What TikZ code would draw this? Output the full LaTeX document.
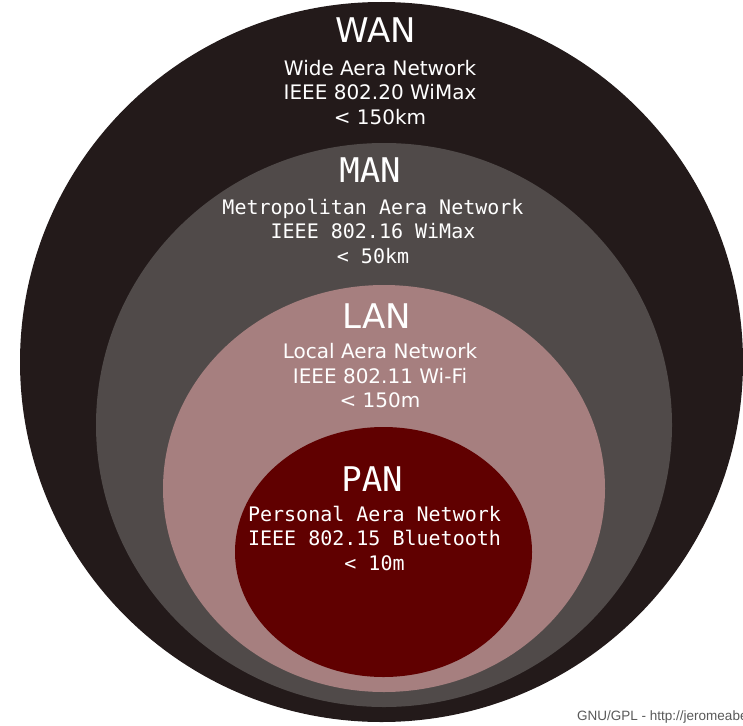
\documentclass[tikz,border=0pt]{standalone}
\usepackage{fontspec}
\setmainfont{DejaVu Sans}
\setmonofont{DejaVu Sans Mono}
\newfontfamily\footfont{Liberation Sans}
\definecolor{wancol}{HTML}{231A1A}
\definecolor{mancol}{HTML}{504A49}
\definecolor{lancol}{HTML}{A67F7F}
\definecolor{pancol}{HTML}{600000}
\tikzset{
  ringtitle/.style={text=white,inner sep=0pt,anchor=base,font=\fontsize{34}{40}\selectfont},
  ringtext/.style={text=white,inner sep=0pt,anchor=base,align=center,font=\fontsize{20}{24.5}\selectfont},
}
\begin{document}
\begin{tikzpicture}[x=1pt,y=-1pt]
 \useasboundingbox[fill=white] (0,0) rectangle (743,725);
 % rings, outside in
 \fill[wancol] (381.5,362) ellipse [x radius=361.5pt, y radius=360pt];
 \fill[mancol] (384,425) ellipse [x radius=288pt, y radius=282pt];
 \fill[lancol] (384,488.5) ellipse [x radius=221pt, y radius=203.5pt];
 \fill[pancol] (383.5,552) ellipse [x radius=148.5pt, y radius=125pt];
 % labels (text nodes sit on the baseline of their last line)
 \node[ringtitle] (wan) at (376,43) {WAN};
 \node[ringtext] (wantext) at (380,124) {Wide Aera Network\\IEEE 802.20 WiMax\\< 150km};
 \node[ringtitle,font=\ttfamily\fontsize{34}{40}\selectfont] (man) at (370,182) {MAN};
 \node[ringtext,font=\ttfamily\fontsize{20}{24.5}\selectfont] (mantext) at (373,263) {Metropolitan Aera Network\\IEEE 802.16 WiMax\\< 50km};
 \node[ringtitle] (lan) at (377,328) {LAN};
 \node[ringtext] (lantext) at (380,407.5) {Local Aera Network\\IEEE 802.11 Wi-Fi\\< 150m};
 \node[ringtitle,font=\ttfamily\fontsize{34}{40}\selectfont] (pan) at (372,491) {PAN};
 \node[ringtext,font=\ttfamily\fontsize{20}{24.5}\selectfont] (pantext) at (374.5,570) {Personal Aera Network\\IEEE 802.15 Bluetooth\\< 10m};
 \node[anchor=base west,inner sep=0pt,text=black!65,font=\footfont\fontsize{13.5}{16}\selectfont] (gpl) at (577,720) {GNU/GPL - http://jeromeabe};
\end{tikzpicture}
\end{document}
